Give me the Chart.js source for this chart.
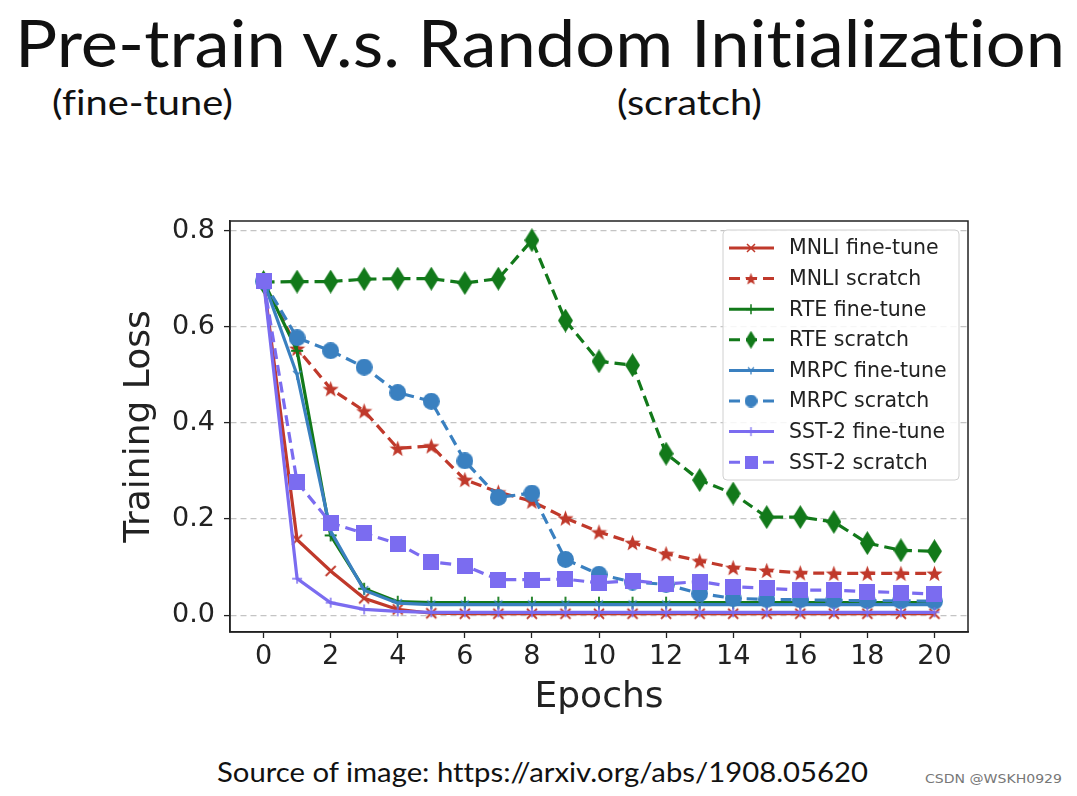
<!DOCTYPE html>
<html>
<head>
<meta charset="utf-8">
<script src="https://cdn.jsdelivr.net/npm/chart.js@4.4.1/dist/chart.umd.min.js"></script>
<style>
  html,body{margin:0;padding:0;background:#fff;width:1077px;height:796px;overflow:hidden;}
  .t{position:absolute;white-space:nowrap;color:#111;font-family:"Lato","Open Sans",sans-serif;transform-origin:0 0;font-variant-ligatures:none;font-feature-settings:"liga" 0,"clig" 0;}
  #wrap{position:absolute;left:100px;top:200px;width:880px;height:530px;}
</style>
</head>
<body>
<div class="t" id="title" style="left:15px;top:2px;font-size:66px;" data-w="1050">Pre-train v.s. Random Initialization</div>
<div class="t" id="sub1" style="left:52px;top:80px;font-size:35px;" data-w="181">(fine-tune)</div>
<div class="t" id="sub2" style="left:617px;top:80px;font-size:35px;" data-w="145">(scratch)</div>
<div class="t" id="src" style="left:217px;top:756px;font-size:26px;" data-w="651">Source of image: https://arxiv.org/abs/1908.05620</div>
<div class="t" id="wm" style="left:925px;top:771px;font-size:13px;color:#777;font-family:'DejaVu Sans Condensed','DejaVu Sans',sans-serif;" data-w="137">CSDN @WSKH0929</div>
<div id="wrap"><canvas id="c"></canvas></div>
<script>
// ---------- data ----------
const epochs = [0,1,2,3,4,5,6,7,8,9,10,11,12,13,14,15,16,17,18,19,20];
const xTickValues = [0,2,4,6,8,10,12,14,16,18,20];
const yTickValues = [0.0,0.2,0.4,0.6,0.8];
const seriesNames = ["MNLI fine-tune","MNLI scratch","RTE fine-tune","RTE scratch","MRPC fine-tune","MRPC scratch","SST-2 fine-tune","SST-2 scratch"];
const mnliFine    = [0.695,0.157,0.092,0.035,0.012,0.004,0.003,0.003,0.003,0.003,0.003,0.003,0.003,0.003,0.003,0.003,0.003,0.003,0.003,0.003,0.003];
const mnliScratch = [0.695,0.555,0.471,0.425,0.347,0.352,0.282,0.256,0.237,0.202,0.173,0.151,0.128,0.113,0.099,0.093,0.088,0.087,0.087,0.087,0.087];
const rteFine     = [0.695,0.550,0.166,0.055,0.028,0.026,0.026,0.026,0.026,0.026,0.026,0.026,0.026,0.026,0.026,0.026,0.026,0.026,0.026,0.026,0.026];
const rteScratch  = [0.693,0.694,0.694,0.699,0.700,0.700,0.691,0.700,0.780,0.613,0.528,0.520,0.336,0.281,0.253,0.204,0.204,0.194,0.150,0.135,0.133];
const mrpcFine    = [0.695,0.500,0.175,0.052,0.025,0.022,0.022,0.022,0.022,0.022,0.022,0.022,0.022,0.022,0.022,0.022,0.022,0.022,0.022,0.022,0.022];
const mrpcScratch = [0.695,0.577,0.550,0.516,0.463,0.445,0.321,0.245,0.254,0.116,0.085,0.069,0.064,0.045,0.035,0.033,0.032,0.031,0.030,0.030,0.029];
const sstFine     = [0.695,0.076,0.026,0.012,0.008,0.006,0.006,0.006,0.006,0.006,0.006,0.006,0.006,0.006,0.006,0.006,0.006,0.006,0.006,0.006,0.006];
const sstScratch  = [0.695,0.277,0.192,0.170,0.149,0.111,0.103,0.074,0.074,0.075,0.067,0.072,0.065,0.070,0.059,0.056,0.052,0.052,0.049,0.047,0.044];
const seriesValues = [mnliFine,mnliScratch,rteFine,rteScratch,mrpcFine,mrpcScratch,sstFine,sstScratch];

// ---------- styles ----------
const RED='#c0392b', GREEN='#12791a', BLUE='#3a80c0', PURPLE='#7b6cf0';
const colors=[RED,RED,GREEN,GREEN,BLUE,BLUE,PURPLE,PURPLE];
const dashed=[false,true,false,true,false,true,false,true];

function mk(w,h,draw){const c=document.createElement('canvas');c.width=w;c.height=h;const g=c.getContext('2d');draw(g,w,h);return c;}
function star(col,s){return mk(s,s,(g,w,h)=>{g.fillStyle=col;g.beginPath();const cx=w/2,cy=h/2+0.8,R=w/2,r=R*0.42;for(let i=0;i<10;i++){const a=-Math.PI/2+i*Math.PI/5;const rr=i%2?r:R;g.lineTo(cx+rr*Math.cos(a),cy+rr*Math.sin(a));}g.closePath();g.fill();});}
function diamond(col,w,h){return mk(w,h,(g)=>{g.fillStyle=col;g.beginPath();g.moveTo(w/2,0);g.lineTo(w,h/2);g.lineTo(w/2,h);g.lineTo(0,h/2);g.closePath();g.fill();});}
function xmark(col,s,lw){return mk(s,s,(g,w,h)=>{g.strokeStyle=col;g.lineWidth=lw;g.beginPath();g.moveTo(2,2);g.lineTo(w-2,h-2);g.moveTo(w-2,2);g.lineTo(2,h-2);g.stroke();});}
function plus(col,s,lw){return mk(s,s,(g,w,h)=>{g.strokeStyle=col;g.lineWidth=lw;g.beginPath();g.moveTo(w/2,1);g.lineTo(w/2,h-1);g.moveTo(1,h/2);g.lineTo(w-1,h/2);g.stroke();});}
function tri(col,s,lw){return mk(s,s,(g,w,h)=>{g.strokeStyle=col;g.lineWidth=lw;g.beginPath();g.moveTo(w/2,h/2);g.lineTo(w/2,h-1);g.moveTo(w/2,h/2);g.lineTo(2,2);g.moveTo(w/2,h/2);g.lineTo(w-2,2);g.stroke();});}
function circ(col,s){return mk(s,s,(g,w,h)=>{g.fillStyle=col;g.beginPath();g.arc(w/2,h/2,w/2,0,Math.PI*2);g.fill();});}
function sq(col,s){return mk(s,s,(g,w,h)=>{g.fillStyle=col;g.fillRect(0,0,w,h);});}

const markers=[xmark(RED,14,1.8),star(RED,17),plus(GREEN,14,1.8),diamond(GREEN,15,24),tri(BLUE,12,1.5),circ(BLUE,17),plus(PURPLE,12,1.5),sq(PURPLE,16)];
const legMarkers=[xmark(RED,12,1.5),star(RED,13),plus(GREEN,12,1.5),diamond(GREEN,11,18),tri(BLUE,10,1.3),circ(BLUE,13),plus(PURPLE,11,1.3),sq(PURPLE,13)];

const datasets=seriesNames.map((n,i)=>({
  label:n,
  data:epochs.map((e,k)=>({x:e,y:seriesValues[i][k]})),
  borderColor:colors[i],
  backgroundColor:colors[i],
  borderWidth:3.2,
  borderDash:dashed[i]?[11,6]:[],
  pointStyle:markers[i],
  pointRadius:7,
  tension:0,
  fill:false,
  order:seriesNames.length-1-i
}));

const framePlugin={id:'frame',
  afterDatasetsDraw(chart){
    const {ctx,chartArea:a}=chart;
    ctx.save();
    ctx.strokeStyle='#222';ctx.lineWidth=1.5;ctx.setLineDash([]);
    ctx.strokeRect(a.left,a.top,a.right-a.left,a.bottom-a.top);
    // legend
    const bw=236,bh=250,bx=a.right-245,by=a.top+9;
    ctx.fillStyle='rgba(255,255,255,0.85)';
    ctx.strokeStyle='#d0d0d0';ctx.lineWidth=1;
    ctx.beginPath();ctx.roundRect(bx,by,bw,bh,4);ctx.fill();ctx.stroke();
    ctx.font='20.5px "DejaVu Sans", sans-serif';ctx.textBaseline='middle';ctx.textAlign='left';
    chart.data.datasets.forEach((d,i)=>{
      const y=by+18+i*30.6;
      ctx.strokeStyle=d.borderColor;ctx.lineWidth=3;
      ctx.setLineDash(dashed[i]?[11,6]:[]);
      ctx.beginPath();ctx.moveTo(bx+6,y);ctx.lineTo(bx+51,y);ctx.stroke();
      ctx.setLineDash([]);
      const m=legMarkers[i];
      ctx.drawImage(m,bx+28-m.width/2,y-m.height/2);
      ctx.fillStyle='#222';
      ctx.fillText(d.label,bx+66,y+1);
    });
    ctx.restore();
  }};

new Chart(document.getElementById('c'),{
  type:'line',
  data:{datasets},
  plugins:[framePlugin],
  options:{
    responsive:true,maintainAspectRatio:false,animation:false,
    layout:{padding:{top:21,right:12,left:0,bottom:0}},
    plugins:{legend:{display:false},tooltip:{enabled:false}},
    scales:{
      x:{type:'linear',min:-1,max:21,
        afterBuildTicks:s=>{s.ticks=xTickValues.map(v=>({value:v}));},
        afterFit:s=>{s.height=98;s.paddingLeft=0;s.paddingRight=0;},
        grid:{drawOnChartArea:false,drawTicks:true,tickLength:6,tickColor:'#222',tickWidth:1.3},
        border:{display:true,color:'#222',width:1.5},
        ticks:{font:{family:'"DejaVu Sans"',size:27},color:'#222',padding:3,maxRotation:0,callback:v=>String(v)},
        title:{display:true,text:'Epochs',font:{family:'"DejaVu Sans"',size:36},color:'#222',padding:{top:0,bottom:11}}
      },
      y:{type:'linear',min:-0.035,max:0.82,
        afterBuildTicks:s=>{s.ticks=yTickValues.map(v=>({value:v}));},
        afterFit:s=>{s.width=130;s.paddingTop=0;s.paddingBottom=0;},
        grid:{drawOnChartArea:true,color:'#c4c4c4',lineWidth:1.2,tickLength:6,tickColor:'#222',tickWidth:1.3,tickBorderDash:[]},
        border:{display:true,color:'#222',width:1.5,dash:[6,4]},
        ticks:{font:{family:'"DejaVu Sans"',size:27},color:'#222',padding:9,callback:v=>Number(v).toFixed(1)},
        title:{display:true,text:'Training Loss',font:{family:'"DejaVu Sans"',size:36},color:'#222',padding:{top:18,bottom:0}}
      }
    }
  }
});

// fit HTML text widths
document.querySelectorAll('.t').forEach(el=>{
  const tw=parseFloat(el.dataset.w);const w=el.getBoundingClientRect().width;
  if(w>0) el.style.transform='scaleX('+(tw/w)+')';
});
</script>
</body>
</html>
